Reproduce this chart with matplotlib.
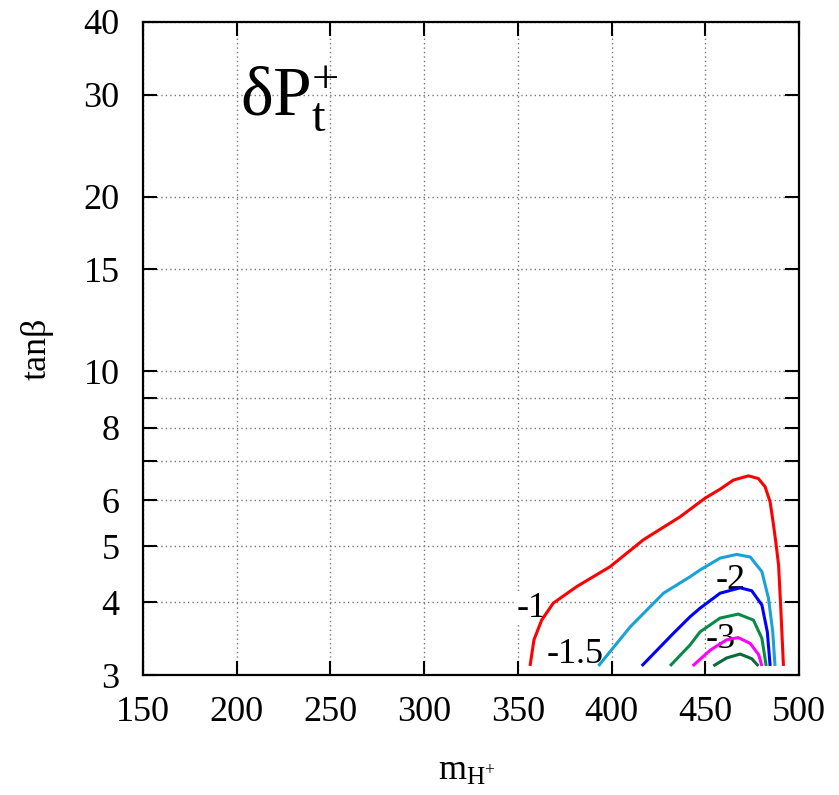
import matplotlib
matplotlib.use("Agg")
import matplotlib.pyplot as plt
from matplotlib.ticker import FixedLocator, FixedFormatter, NullLocator

plt.rcParams['font.family'] = ['Liberation Serif', 'DejaVu Serif']
plt.rcParams['mathtext.fontset'] = 'custom'
plt.rcParams['mathtext.rm'] = 'Liberation Serif'
plt.rcParams['mathtext.it'] = 'Liberation Serif:italic'
plt.rcParams['mathtext.default'] = 'rm'

# ---- data ----
x_ticks = [150, 200, 250, 300, 350, 400, 450, 500]
y_ticks = [3, 4, 5, 6, 7, 8, 9, 10, 15, 20, 30, 40]
y_tick_labels = ['3', '4', '5', '6', '', '8', '', '10', '15', '20', '30', '40']

red_x = [356.5, 358.6, 362.7, 368.9, 381.4, 399.2, 417.0, 436.6, 449.9, 457.9, 465.0, 473.0,
         478.3, 481.9, 484.6, 486.4, 487.8, 489.1, 490.3, 491.7]
red_y = [3.11, 3.45, 3.73, 3.99, 4.26, 4.61, 5.13, 5.62, 6.05, 6.27, 6.50, 6.61,
         6.54, 6.33, 5.96, 5.44, 5.03, 4.64, 3.90, 3.11]

cyan_x = [393.0, 409.9, 427.7, 441.9, 447.2, 457.9, 466.8, 474.0, 480.2, 483.7, 486.0, 487.2]
cyan_y = [3.11, 3.63, 4.15, 4.43, 4.55, 4.77, 4.84, 4.79, 4.52, 4.07, 3.56, 3.11]

blue_x = [416.1, 433.0, 441.9, 447.2, 457.9, 468.6, 474.8, 480.2, 483.1, 484.6]
blue_y = [3.11, 3.54, 3.78, 3.91, 4.15, 4.24, 4.19, 3.96, 3.56, 3.11]

green_x = [431.2, 441.9, 447.2, 457.9, 467.6, 475.7, 480.2, 482.5]
green_y = [3.11, 3.38, 3.56, 3.76, 3.82, 3.73, 3.47, 3.11]

magenta_x = [443.3, 452.6, 461.4, 467.6, 474.0, 478.5, 480.2]
magenta_y = [3.11, 3.31, 3.45, 3.48, 3.40, 3.25, 3.11]

dkgreen_x = [454.3, 461.4, 468.6, 474.8, 478.3]
dkgreen_y = [3.11, 3.21, 3.26, 3.20, 3.11]

contour_labels = ['-1', '-1.5', '-2', '-3']
label_x = [357.4, 380.5, 463.3, 458.2]
label_y = [3.91, 3.25, 4.37, 3.45]

# ---- figure ----
W, H = 839, 795
fig = plt.figure(figsize=(W / 100, H / 100), dpi=100)
left, right, top, bottom = 143, 799, 22, 675
ax = fig.add_axes([left / W, (H - bottom) / H, (right - left) / W, (bottom - top) / H])

ax.set_yscale('log')
ax.set_xlim(150, 500)
ax.set_ylim(3, 40)

ax.xaxis.set_major_locator(FixedLocator(x_ticks))
ax.yaxis.set_major_locator(FixedLocator(y_ticks))
ax.yaxis.set_major_formatter(FixedFormatter(y_tick_labels))
ax.yaxis.set_minor_locator(NullLocator())
ax.xaxis.set_minor_locator(NullLocator())

ax.tick_params(which='major', direction='in', length=10, width=1.5,
               top=True, right=True, labelsize=26, colors='black')
ax.tick_params(axis='y', pad=17)
ax.tick_params(axis='x', pad=15)
for s in ax.spines.values():
    s.set_linewidth(1.6)

ax.grid(True, which='major', color='#777777', linestyle=(0, (1, 2.2)), linewidth=1.0, zorder=0.5)
ax.set_axisbelow(True)

series = [
    (red_x, red_y, '#ff0000'),
    (cyan_x, cyan_y, '#1aa2d8'),
    (blue_x, blue_y, '#0000ff'),
    (green_x, green_y, '#0a8a48'),
    (magenta_x, magenta_y, '#ff00ff'),
    (dkgreen_x, dkgreen_y, '#0b6a3a'),
]
for xs, ys, c in series:
    ax.plot(xs, ys, color=c, lw=2.2, zorder=3, solid_capstyle='butt', solid_joinstyle='round')

for t, lx, ly in zip(contour_labels, label_x, label_y):
    ax.text(lx, ly, t, fontsize=26, ha='center', va='center', zorder=2,
            bbox=dict(facecolor='white', edgecolor='none', pad=0))

ax.text(201.8, 27.7, r'$\mathrm{δP}_{\mathrm{t}}^{+}$', fontsize=50, ha='left', va='baseline')

fig.text(37 / W, 1 - 349 / H, 'tanβ', rotation=90, fontsize=26, ha='center', va='center')
fig.text(467 / W, 1 - 780 / H, r'$\mathrm{m}_{\mathrm{H}^{+}}$', fontsize=26, ha='center', va='baseline')

fig.savefig('out.png', dpi=100)
